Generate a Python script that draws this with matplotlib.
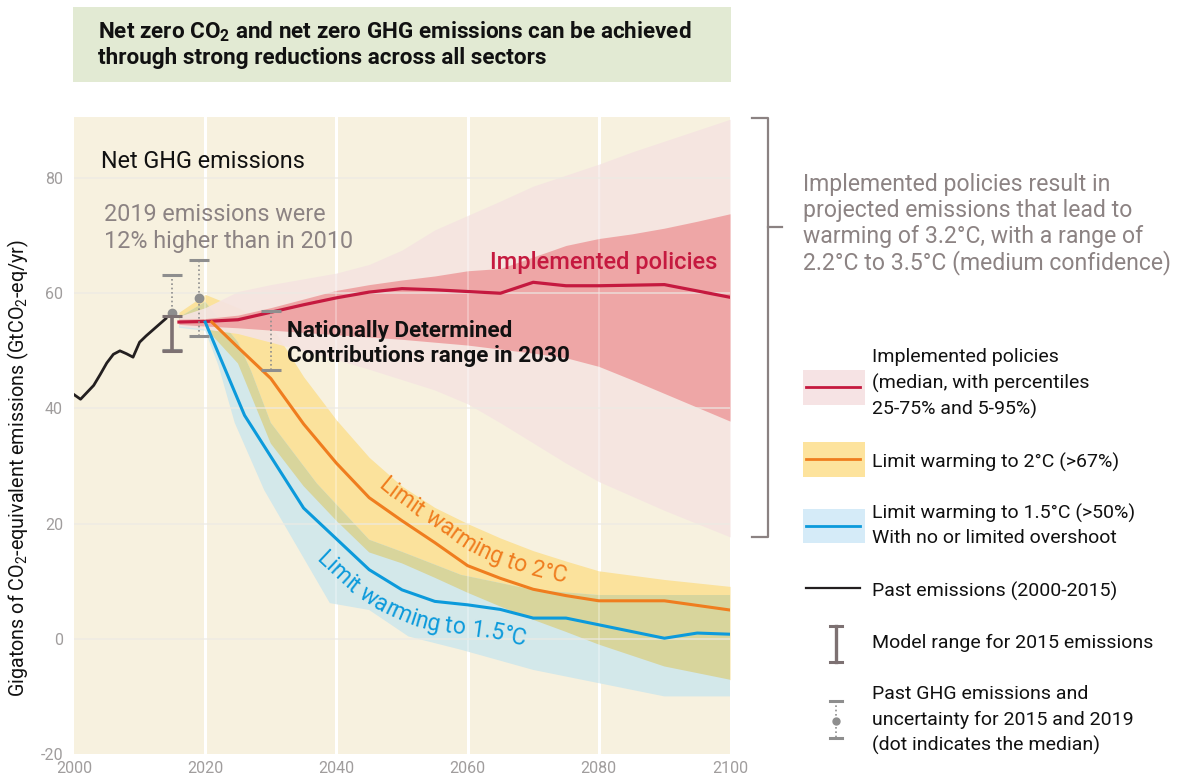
import numpy as np
import matplotlib
matplotlib.use("Agg")
import matplotlib.pyplot as plt
from matplotlib.patches import Rectangle
from matplotlib.lines import Line2D
from matplotlib.font_manager import FontProperties
from matplotlib.textpath import TextToPath

plt.rcParams["font.family"] = ["Roboto", "DejaVu Sans"]
plt.rcParams["mathtext.default"] = "regular"

W, H = 1182, 776

# ---- data (GtCO2-eq/yr) ----
past_years = [2000, 2001, 2002, 2003, 2004, 2005, 2006, 2007, 2008, 2009, 2010, 2011, 2012, 2013, 2014]
past_vals = [42.4, 41.6, 42.8, 44.0, 45.9, 47.9, 49.4, 50.0, 49.5, 48.9, 51.5, 52.6, 53.6, 54.6, 55.6]

# implemented policies: median, 25-75% and 5-95%
ip_years = [2016, 2020, 2025, 2030, 2035, 2040, 2045, 2050, 2055, 2060, 2065, 2070, 2075, 2080, 2085, 2090, 2095, 2100]
ip_median = [55.0, 55.1, 55.4, 56.7, 58.0, 59.2, 60.2, 60.8, 60.6, 60.3, 60.0, 61.9, 61.3, 61.3, 61.4, 61.5, 60.4, 59.3]
ip_p25 = [54.6, 54.3, 54.0, 53.6, 53.2, 52.8, 52.4, 52.0, 51.5, 51.0, 50.3, 49.6, 48.8, 47.3, 45.0, 42.6, 40.2, 37.8]
ip_p75 = [55.5, 55.6, 56.2, 57.5, 59.0, 60.5, 61.5, 62.3, 63.0, 63.9, 64.3, 66.3, 68.3, 69.5, 70.3, 71.3, 72.5, 73.8]
ip_p05 = [54.3, 53.8, 53.0, 51.5, 50.0, 48.5, 46.8, 45.0, 43.2, 40.8, 37.5, 34.0, 30.5, 27.3, 24.8, 22.3, 20.0, 17.7]
ip_p95 = [56.0, 57.5, 60.3, 61.5, 62.5, 63.5, 65.0, 67.5, 71.0, 73.5, 76.0, 78.6, 80.5, 82.4, 84.5, 86.4, 88.3, 90.2]

# limit warming to 2C (>67%)
c2_med_years = [2021, 2025, 2030, 2035, 2040, 2045, 2050, 2055, 2060, 2065, 2070, 2075, 2080, 2090, 2100]
c2_median = [55.0, 50.6, 45.2, 37.3, 30.5, 24.5, 20.5, 16.7, 12.7, 10.5, 8.6, 7.5, 6.6, 6.6, 5.0]
c2_years = [2016, 2020, 2025, 2030, 2035, 2040, 2045, 2050, 2055, 2060, 2065, 2070, 2075, 2080, 2090, 2100]
c2_low = [54.5, 54.0, 47.8, 33.9, 26.5, 20.5, 15.0, 13.1, 10.6, 8.0, 5.6, 3.3, 1.2, -1.0, -4.8, -7.1]
c2_high = [56.7, 59.8, 57.5, 54.5, 45.5, 38.0, 31.5, 26.5, 22.8, 20.0, 17.5, 15.3, 13.5, 11.8, 10.3, 9.1]

# limit warming to 1.5C (>50%), no or limited overshoot
c15_med_years = [2020, 2026, 2035, 2045, 2050, 2055, 2060, 2065, 2070, 2075, 2090, 2095, 2100]
c15_median = [55.0, 38.8, 22.7, 12.0, 8.5, 6.5, 5.9, 5.1, 3.6, 3.6, 0.1, 1.0, 0.8]
c15_low_years = [2016, 2020, 2022, 2024.5, 2029, 2039, 2045, 2051, 2059, 2070, 2090, 2100]
c15_low = [54.0, 53.5, 47.5, 37.5, 25.8, 6.2, 5.0, 0.4, -1.9, -5.4, -10.0, -10.0]
c15_high_years = [2016, 2020, 2025, 2027, 2030, 2037, 2045, 2050, 2059, 2070, 2080, 2100]
c15_high = [55.8, 58.5, 51.5, 46.5, 37.5, 27.0, 17.2, 15.1, 11.1, 8.5, 7.6, 7.6]

# uncertainty bars
model_2015 = (2015, 49.9, 56.0)                 # year, low, high
past_bar_years = [2015, 2019]
past_bar_med = [56.6, 59.2]
past_bar_low = [50.1, 52.5]
past_bar_high = [63.1, 65.7]
ndc_2030 = (2030, 46.7, 56.9)

xticks = [2000, 2020, 2040, 2060, 2080, 2100]
yticks = [-20, 0, 20, 40, 60, 80]

# ---- colours ----
cream = "#F7F1DF"
pink_light = "#F5E4E1"
pink_dark = "#EEA3A3"
red = "#C5193F"
yellow = "#FBE29C"
orange = "#EF7D1F"
blue_fill = "#D3E8EA"
olive = "#D8D59C"
blue = "#0C9ADB"
black = "#231F20"
grey_text = "#8C8383"
bar_col = "#7D7172"
dot_col = "#8E8E8E"


def fx(px):
    return px / W


def fy(py):
    return 1 - py / H


def curved_label(ax, xs, ys, text, x_start, offset, color, size, k=41):
    # place characters one by one along a smoothed copy of a line
    fig = ax.figure
    pts = ax.transData.transform(np.column_stack([xs, ys]))
    seg = np.hypot(*np.diff(pts, axis=0).T)
    s = np.concatenate([[0], np.cumsum(seg)])
    ss = np.arange(0, s[-1], 1.0)
    px = np.interp(ss, s, pts[:, 0])
    py = np.interp(ss, s, pts[:, 1])
    ker = np.ones(k) / k
    px = np.convolve(np.pad(px, k // 2, mode="edge"), ker, mode="valid")
    py = np.convolve(np.pad(py, k // 2, mode="edge"), ker, mode="valid")
    dx, dy = np.gradient(px), np.gradient(py)
    nrm = np.hypot(dx, dy)
    ox = px - offset * dy / nrm
    oy = py + offset * dx / nrm
    so = np.concatenate([[0], np.cumsum(np.hypot(np.diff(ox), np.diff(oy)))])
    s0 = np.interp(x_start, ox, so)
    fp = FontProperties(family="Roboto", size=size)
    t2p = TextToPath()
    kpx = fig.dpi / 72
    inv = ax.transData.inverted()
    for i, ch in enumerate(text):
        if ch == " ":
            continue
        right = t2p.get_text_width_height_descent(text[:i + 1], fp, ismath=False)[0] * kpx
        w = t2p.get_text_width_height_descent(ch, fp, ismath=False)[0] * kpx
        sc = s0 + right - w / 2
        x = np.interp(sc, so, ox)
        y = np.interp(sc, so, oy)
        ang = np.degrees(np.arctan2(np.interp(sc, so, dy), np.interp(sc, so, dx)))
        xd, yd = inv.transform((x, y))
        ax.text(xd, yd, ch, rotation=ang, rotation_mode="anchor", ha="center",
                va="baseline", color=color, fontsize=size, zorder=8)


fig = plt.figure(figsize=(W / 100, H / 100), dpi=100)
ax = fig.add_axes([fx(74), fy(754), (730 - 74) / W, (754 - 117) / H])
ax.set_xlim(2000, 2100)
ax.set_ylim(-20, 90.6)
ax.set_facecolor(cream)
for sp in ax.spines.values():
    sp.set_visible(False)

# grid
for x in xticks[1:-1]:
    ax.axvline(x, color="white", lw=2.2, zorder=0.5)
    ax.axvline(x, color="white", lw=1.2, alpha=0.35, zorder=4)
for y in yticks[1:]:
    ax.axhline(y, color="#ECEAE4", lw=1.1, alpha=0.8, zorder=4)

# 2C and 1.5C ranges, with their overlap
ax.fill_between(c2_years, c2_low, c2_high, color=yellow, lw=0, zorder=1)
blu = ax.fill(c15_low_years + c15_high_years[::-1], c15_low + c15_high[::-1],
              color=blue_fill, lw=0, zorder=1.1)[0]
ov = ax.fill(c2_years + c2_years[::-1], c2_low + c2_high[::-1], color=olive, lw=0, zorder=1.2)[0]
ov.set_clip_path(blu)

# implemented policies ranges
ax.fill_between(ip_years, ip_p05, ip_p95, color=pink_light, lw=0, alpha=0.92, zorder=2)
ax.fill_between(ip_years, ip_p25, ip_p75, color=pink_dark, lw=0, alpha=0.95, zorder=2.1)

# lines
ax.plot(past_years, past_vals, color=black, lw=2.0, zorder=5)
ax.plot(ip_years, ip_median, color=red, lw=2.3, zorder=5)
ax.plot(c2_med_years, c2_median, color=orange, lw=2.2, zorder=5)
ax.plot(c15_med_years, c15_median, color=blue, lw=2.2, zorder=5)

# uncertainty bars
eb = ax.errorbar(past_bar_years, past_bar_med,
                 yerr=[np.subtract(past_bar_med, past_bar_low), np.subtract(past_bar_high, past_bar_med)],
                 fmt="o", ms=6, color=dot_col, ecolor=dot_col, elinewidth=1.2, capsize=7, capthick=2.2, zorder=6)
eb[2][0].set_linestyle((0, (1, 1.6)))
yr, lo, hi = ndc_2030
eb = ax.errorbar([yr], [(lo + hi) / 2], yerr=[[(hi - lo) / 2], [(hi - lo) / 2]], fmt="none",
                 ecolor=dot_col, elinewidth=1.2, capsize=7, capthick=2.2, zorder=6)
eb[2][0].set_linestyle((0, (1, 1.6)))
yr, lo, hi = model_2015
ax.errorbar([yr], [(lo + hi) / 2], yerr=[[(hi - lo) / 2], [(hi - lo) / 2]], fmt="none",
            ecolor=bar_col, elinewidth=2.6, capsize=7, capthick=2.2, zorder=6.5)

# ticks
ax.set_xticks(xticks)
ax.set_xticklabels([str(v) for v in xticks])
ax.set_yticks(yticks)
ax.set_yticklabels([str(v) for v in yticks])
ax.tick_params(length=0, labelsize=11.5, labelcolor="#A09D9D")
ax.tick_params(axis="x", pad=5)
ax.tick_params(axis="y", pad=8)

# in-chart annotations
ax.text(2004.1, 82.8, "Net GHG emissions", fontsize=16.8, color="#111111", va="center", zorder=8)
ax.text(2004.6, 73.6, "2019 emissions were", fontsize=16.8, color=grey_text, va="center", zorder=8)
ax.text(2004.6, 69.0, "12% higher than in 2010", fontsize=16.8, color=grey_text, va="center", zorder=8)
ax.text(2063.4, 65.4, "Implemented policies", fontsize=17, fontweight="medium", color=red,
        va="center", zorder=8)
ax.text(2032.5, 53.5, "Nationally Determined", fontsize=16.2, fontweight="bold", color="#111111",
        va="center", zorder=8)
ax.text(2032.5, 49.1, "Contributions range in 2030", fontsize=16.2, fontweight="bold", color="#111111",
        va="center", zorder=8)
curved_label(ax, c2_med_years, c2_median, "Limit warming to 2°C", 377, 12, orange, 16.5)
curved_label(ax, c15_med_years, c15_median, "Limit warming to 1.5°C", 315, -30, blue, 16.5)

# y axis title
fig.text(fx(18), fy(468), "Gigatons of CO$_2$-equivalent emissions (GtCO$_2$-eq/yr)",
         rotation=90, ha="center", va="center", fontsize=14.2, color="#111111")

# headline box
fig.add_artist(Rectangle((fx(73), fy(82)), (731 - 73) / W, (82 - 7) / H, transform=fig.transFigure,
                         facecolor="#E2EAD3", edgecolor="none"))
fig.text(fx(98), fy(32), "Net zero CO$_2$ and net zero GHG emissions can be achieved",
         fontsize=16.2, fontweight="bold", color="#111111", va="center")
fig.text(fx(98), fy(58), "through strong reductions across all sectors",
         fontsize=16.2, fontweight="bold", color="#111111", va="center")

# bracket and its note
bk = dict(color="#8B8282", lw=1.6, transform=fig.transFigure)
fig.add_artist(Line2D([fx(752), fx(768), fx(768), fx(752)], [fy(118), fy(118), fy(537), fy(537)], **bk))
fig.add_artist(Line2D([fx(768), fx(782)], [fy(227), fy(227)], **bk))
note = ["Implemented policies result in", "projected emissions that lead to",
        "warming of 3.2°C, with a range of", "2.2°C to 3.5°C (medium confidence)"]
for i, line in enumerate(note):
    fig.text(fx(803), fy(185 + 25.7 * i), line, fontsize=16.6, color=grey_text, va="center")

# legend
lg = dict(transform=fig.transFigure)
fig.add_artist(Rectangle((fx(803), fy(405)), 62 / W, 35 / H, facecolor="#F6E3E4", edgecolor="none", **lg))
fig.add_artist(Line2D([fx(806), fx(860)], [fy(387)] * 2, color=red, lw=2.0, **lg))
fig.add_artist(Rectangle((fx(803), fy(477)), 62 / W, 35 / H, facecolor="#FDE39D", edgecolor="none", **lg))
fig.add_artist(Line2D([fx(806), fx(860)], [fy(459)] * 2, color=orange, lw=2.0, **lg))
fig.add_artist(Rectangle((fx(803), fy(543)), 62 / W, 34 / H, facecolor="#D5EBF8", edgecolor="none", **lg))
fig.add_artist(Line2D([fx(806), fx(860)], [fy(526)] * 2, color=blue, lw=2.0, **lg))
fig.add_artist(Line2D([fx(806), fx(860)], [fy(588)] * 2, color=black, lw=1.6, **lg))
# model range symbol
fig.add_artist(Line2D([fx(836), fx(836)], [fy(626), fy(662)], color=bar_col, lw=2.4, **lg))
for yy in (626, 662):
    fig.add_artist(Line2D([fx(830), fx(842)], [fy(yy)] * 2, color=bar_col, lw=2.2, **lg))
# past emissions symbol
fig.add_artist(Line2D([fx(836), fx(836)], [fy(701), fy(738)], color=dot_col, lw=1.2,
                      ls=(0, (1, 1.6)), **lg))
for yy in (701, 738):
    fig.add_artist(Line2D([fx(830), fx(842)], [fy(yy)] * 2, color=dot_col, lw=2.2, **lg))
fig.add_artist(Line2D([fx(836)], [fy(721)], marker="o", ms=5, color=dot_col, **lg))

legend_text = [
    (357, "Implemented policies"), (383, "(median, with percentiles"), (409, "25-75% and 5-95%)"),
    (462, "Limit warming to 2°C (>67%)"),
    (513, "Limit warming to 1.5°C (>50%)"), (538, "With no or limited overshoot"),
    (591, "Past emissions (2000-2015)"),
    (643, "Model range for 2015 emissions"),
    (694, "Past GHG emissions and"), (720, "uncertainty for 2015 and 2019"), (745, "(dot indicates the median)"),
]
for yy, t in legend_text:
    fig.text(fx(872), fy(yy), t, fontsize=14, color="#111111", va="center")

fig.savefig("out.png", dpi=100)
